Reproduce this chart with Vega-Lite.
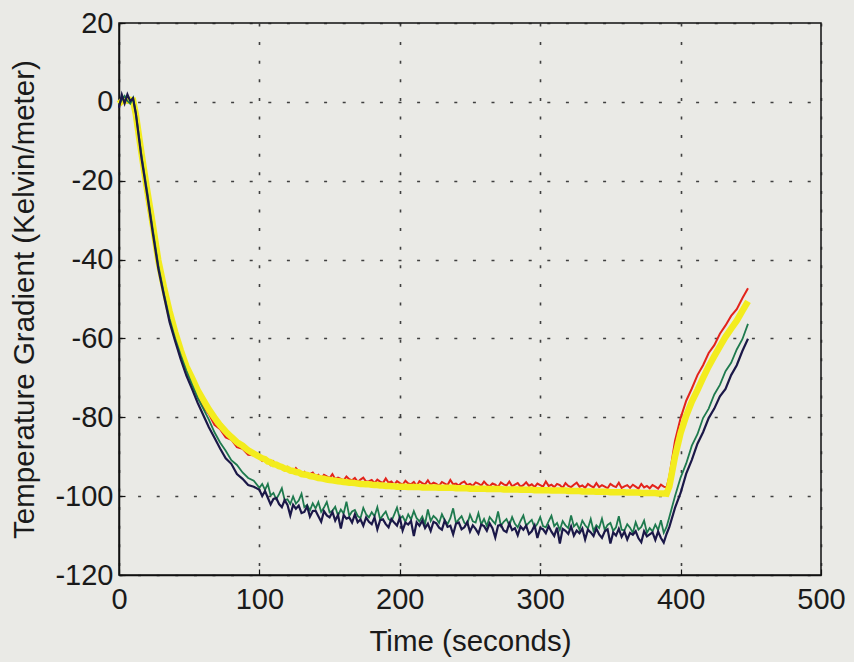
{
  "$schema": "https://vega.github.io/schema/vega-lite/v6.json",
  "width": 702,
  "height": 552,
  "autosize": {"type": "none"},
  "padding": {"left": 119, "top": 23, "right": 33, "bottom": 87},
  "background": "#eaeae6",
  "config": {
    "view": {"stroke": "#111111", "strokeWidth": 1.5, "fill": "#eaeae6"},
    "axis": {
      "labelFont": "Liberation Sans",
      "titleFont": "Liberation Sans",
      "labelFontSize": 29,
      "titleFontSize": 29.5,
      "labelColor": "#1a1a1a",
      "titleColor": "#1a1a1a",
      "titleFontWeight": "normal",
      "domainColor": "#111111",
      "domainWidth": 1.5,
      "tickColor": "#111111",
      "tickWidth": 1.2,
      "grid": true,
      "gridColor": "#222222",
      "gridWidth": 1.6,
      "gridDash": [3, 15.6],
      "gridOpacity": 0.85,
      "labelExpr": "'' + datum.value"
    }
  },
  "data": {"values": [
    {"t":0,"red":0.2,"yellow":-0.5,"green":-0.8,"navy":-1.5},
    {"t":2,"red":0.8,"yellow":0.2,"green":0.6,"navy":1.8},
    {"t":4,"red":1.0,"yellow":0.6,"green":1.5,"navy":-0.4},
    {"t":6,"red":-0.2,"yellow":0.3,"green":0.2,"navy":1.9},
    {"t":8,"red":0.3,"yellow":0.5,"green":-0.5,"navy":0.2},
    {"t":10,"red":0.4,"yellow":0.4,"green":1.0,"navy":0.9},
    {"t":12,"red":-4.5,"yellow":-3.2,"green":-2.8,"navy":-3.0},
    {"t":16,"red":-15.5,"yellow":-13,"green":-13.5,"navy":-14.2},
    {"t":20,"red":-25,"yellow":-22.3,"green":-22.6,"navy":-23.4},
    {"t":24,"red":-33.4,"yellow":-31,"green":-32.2,"navy":-33.1},
    {"t":28,"red":-41,"yellow":-40.2,"green":-41.5,"navy":-42.3},
    {"t":32,"red":-48.3,"yellow":-47,"green":-48.6,"navy":-49.2},
    {"t":36,"red":-54.2,"yellow":-53.1,"green":-55,"navy":-55.8},
    {"t":40,"red":-59.8,"yellow":-58.4,"green":-60,"navy":-60.7},
    {"t":44,"red":-64.2,"yellow":-63,"green":-64.3,"navy":-65.3},
    {"t":48,"red":-68.3,"yellow":-67.1,"green":-68.2,"navy":-69.4},
    {"t":52,"red":-71.2,"yellow":-70,"green":-71.7,"navy":-72.8},
    {"t":56,"red":-74.4,"yellow":-73.1,"green":-75.1,"navy":-76.3},
    {"t":60,"red":-77.3,"yellow":-75.6,"green":-77.8,"navy":-79.4},
    {"t":64,"red":-79.2,"yellow":-78,"green":-80.6,"navy":-82.5},
    {"t":68,"red":-81.9,"yellow":-80.1,"green":-83.8,"navy":-85.2},
    {"t":72,"red":-83,"yellow":-82,"green":-86.4,"navy":-87.9},
    {"t":76,"red":-85.1,"yellow":-83.6,"green":-88.5,"navy":-90.4},
    {"t":80,"red":-85.7,"yellow":-85,"green":-90.9,"navy":-91.8},
    {"t":84,"red":-87.6,"yellow":-86.3,"green":-92.1,"navy":-94.4},
    {"t":88,"red":-88,"yellow":-87.2,"green":-94,"navy":-95.6},
    {"t":92,"red":-89.5,"yellow":-88.4,"green":-95.4,"navy":-97.2},
    {"t":96,"red":-89.6,"yellow":-89.2,"green":-96.1,"navy":-97.6},
    {"t":100,"red":-90.4,"yellow":-90.0,"green":-97.9,"navy":-98.4},
    {"t":102,"red":-91.1,"yellow":-90.4,"green":-96.9,"navy":-100.0},
    {"t":104,"red":-90.7,"yellow":-90.6,"green":-98.4,"navy":-98.7},
    {"t":106,"red":-91.4,"yellow":-91.2,"green":-96.9,"navy":-100.4},
    {"t":108,"red":-92.1,"yellow":-91.4,"green":-99.8,"navy":-102.1},
    {"t":110,"red":-91.2,"yellow":-91.9,"green":-99.2,"navy":-100.7},
    {"t":112,"red":-92.1,"yellow":-92.0,"green":-100.8,"navy":-100.5},
    {"t":114,"red":-92.6,"yellow":-92.4,"green":-99.5,"navy":-102.0},
    {"t":116,"red":-92.3,"yellow":-92.6,"green":-98.0,"navy":-102.8},
    {"t":118,"red":-93.4,"yellow":-93.0,"green":-101.0,"navy":-101.0},
    {"t":120,"red":-92.6,"yellow":-93.1,"green":-100.8,"navy":-102.2},
    {"t":122,"red":-93.4,"yellow":-93.5,"green":-102.0,"navy":-104.9},
    {"t":124,"red":-93.8,"yellow":-93.6,"green":-100.1,"navy":-102.2},
    {"t":126,"red":-92.9,"yellow":-93.9,"green":-101.9,"navy":-103.2},
    {"t":128,"red":-93.7,"yellow":-94.0,"green":-101.1,"navy":-102.4},
    {"t":130,"red":-94.2,"yellow":-94.4,"green":-99.4,"navy":-104.3},
    {"t":132,"red":-93.8,"yellow":-94.5,"green":-102.8,"navy":-104.0},
    {"t":134,"red":-94.8,"yellow":-94.6,"green":-102.2,"navy":-102.6},
    {"t":136,"red":-94.4,"yellow":-94.9,"green":-103.6,"navy":-105.2},
    {"t":138,"red":-94.0,"yellow":-95.0,"green":-101.8,"navy":-103.8},
    {"t":140,"red":-95.0,"yellow":-95.2,"green":-103.1,"navy":-103.7},
    {"t":142,"red":-94.6,"yellow":-95.4,"green":-101.5,"navy":-105.1},
    {"t":144,"red":-95.5,"yellow":-95.5,"green":-104.0,"navy":-106.5},
    {"t":146,"red":-94.6,"yellow":-95.6,"green":-102.9,"navy":-103.8},
    {"t":148,"red":-95.0,"yellow":-95.8,"green":-101.5,"navy":-104.9},
    {"t":150,"red":-95.4,"yellow":-95.9,"green":-104.1,"navy":-105.4},
    {"t":152,"red":-94.4,"yellow":-96.0,"green":-103.7,"navy":-104.0},
    {"t":154,"red":-95.7,"yellow":-96.1,"green":-102.7,"navy":-106.2},
    {"t":156,"red":-95.3,"yellow":-96.2,"green":-104.9,"navy":-104.8},
    {"t":158,"red":-95.6,"yellow":-96.3,"green":-103.4,"navy":-108.2},
    {"t":160,"red":-96.0,"yellow":-96.4,"green":-104.4,"navy":-104.8},
    {"t":162,"red":-95.0,"yellow":-96.5,"green":-101.4,"navy":-105.7},
    {"t":164,"red":-95.7,"yellow":-96.6,"green":-105.0,"navy":-105.4},
    {"t":166,"red":-96.0,"yellow":-96.6,"green":-103.9,"navy":-106.7},
    {"t":168,"red":-95.4,"yellow":-96.7,"green":-103.5,"navy":-104.6},
    {"t":170,"red":-96.4,"yellow":-96.8,"green":-105.0,"navy":-106.6},
    {"t":172,"red":-95.8,"yellow":-96.9,"green":-105.6,"navy":-105.9},
    {"t":174,"red":-95.3,"yellow":-96.9,"green":-103.0,"navy":-107.5},
    {"t":176,"red":-96.3,"yellow":-97.0,"green":-104.6,"navy":-105.4},
    {"t":178,"red":-96.2,"yellow":-97.0,"green":-105.4,"navy":-106.5},
    {"t":180,"red":-95.9,"yellow":-97.1,"green":-104.1,"navy":-107.1},
    {"t":182,"red":-96.7,"yellow":-97.2,"green":-105.1,"navy":-105.4},
    {"t":184,"red":-95.8,"yellow":-97.2,"green":-102.8,"navy":-108.4},
    {"t":186,"red":-96.3,"yellow":-97.3,"green":-105.9,"navy":-106.1},
    {"t":188,"red":-96.7,"yellow":-97.3,"green":-104.8,"navy":-105.9},
    {"t":190,"red":-95.5,"yellow":-97.4,"green":-103.9,"navy":-107.1},
    {"t":192,"red":-96.6,"yellow":-97.4,"green":-105.8,"navy":-107.9},
    {"t":194,"red":-96.3,"yellow":-97.5,"green":-106.4,"navy":-105.8},
    {"t":196,"red":-97.1,"yellow":-97.5,"green":-104.7,"navy":-106.7},
    {"t":198,"red":-96.2,"yellow":-97.6,"green":-102.9,"navy":-107.5},
    {"t":200,"red":-96.7,"yellow":-97.6,"green":-105.7,"navy":-105.5},
    {"t":202,"red":-97.1,"yellow":-97.6,"green":-105.1,"navy":-108.7},
    {"t":204,"red":-96.1,"yellow":-97.6,"green":-106.5,"navy":-106.7},
    {"t":206,"red":-96.8,"yellow":-97.7,"green":-104.6,"navy":-107.2},
    {"t":208,"red":-97.0,"yellow":-97.7,"green":-105.9,"navy":-106.3},
    {"t":210,"red":-96.4,"yellow":-97.7,"green":-103.8,"navy":-110.1},
    {"t":212,"red":-97.4,"yellow":-97.7,"green":-105.6,"navy":-106.6},
    {"t":214,"red":-96.2,"yellow":-97.7,"green":-106.4,"navy":-107.5},
    {"t":216,"red":-96.7,"yellow":-97.8,"green":-105.2,"navy":-106.2},
    {"t":218,"red":-97.0,"yellow":-97.8,"green":-107.0,"navy":-108.1},
    {"t":220,"red":-96.0,"yellow":-97.8,"green":-103.4,"navy":-107.0},
    {"t":222,"red":-97.1,"yellow":-97.8,"green":-106.3,"navy":-108.8},
    {"t":224,"red":-96.6,"yellow":-97.8,"green":-105.0,"navy":-106.5},
    {"t":226,"red":-96.9,"yellow":-97.8,"green":-105.7,"navy":-106.9},
    {"t":228,"red":-97.4,"yellow":-97.9,"green":-106.8,"navy":-108.0},
    {"t":230,"red":-96.4,"yellow":-97.9,"green":-104.6,"navy":-108.5},
    {"t":232,"red":-96.8,"yellow":-97.9,"green":-106.1,"navy":-106.2},
    {"t":234,"red":-97.2,"yellow":-97.9,"green":-107.1,"navy":-107.8},
    {"t":236,"red":-95.9,"yellow":-97.9,"green":-105.6,"navy":-107.5},
    {"t":238,"red":-97.0,"yellow":-97.9,"green":-103.1,"navy":-109.7},
    {"t":240,"red":-96.8,"yellow":-98.0,"green":-106.8,"navy":-107.0},
    {"t":242,"red":-97.3,"yellow":-98.0,"green":-105.9,"navy":-106.7},
    {"t":244,"red":-96.6,"yellow":-98.0,"green":-105.1,"navy":-108.4},
    {"t":246,"red":-96.3,"yellow":-98.0,"green":-106.8,"navy":-107.9},
    {"t":248,"red":-97.2,"yellow":-98.0,"green":-107.2,"navy":-106.6},
    {"t":250,"red":-96.9,"yellow":-98.1,"green":-104.7,"navy":-109.0},
    {"t":252,"red":-97.4,"yellow":-98.1,"green":-106.4,"navy":-107.4},
    {"t":254,"red":-96.5,"yellow":-98.1,"green":-106.7,"navy":-108.3},
    {"t":256,"red":-96.8,"yellow":-98.1,"green":-104.3,"navy":-109.5},
    {"t":258,"red":-97.3,"yellow":-98.1,"green":-107.2,"navy":-107.2},
    {"t":260,"red":-96.3,"yellow":-98.1,"green":-105.8,"navy":-107.6},
    {"t":262,"red":-97.1,"yellow":-98.2,"green":-107.6,"navy":-108.8},
    {"t":264,"red":-97.5,"yellow":-98.2,"green":-105.3,"navy":-106.9},
    {"t":266,"red":-96.8,"yellow":-98.2,"green":-106.2,"navy":-108.1},
    {"t":268,"red":-97.1,"yellow":-98.2,"green":-107.0,"navy":-110.5},
    {"t":270,"red":-97.7,"yellow":-98.2,"green":-103.9,"navy":-107.5},
    {"t":272,"red":-96.5,"yellow":-98.2,"green":-107.5,"navy":-107.3},
    {"t":274,"red":-97.0,"yellow":-98.3,"green":-106.5,"navy":-108.7},
    {"t":276,"red":-97.3,"yellow":-98.3,"green":-105.8,"navy":-109.1},
    {"t":278,"red":-96.3,"yellow":-98.3,"green":-107.4,"navy":-106.9},
    {"t":280,"red":-97.5,"yellow":-98.3,"green":-105.3,"navy":-108.6},
    {"t":282,"red":-97.1,"yellow":-98.3,"green":-107.0,"navy":-108.1},
    {"t":284,"red":-96.7,"yellow":-98.3,"green":-107.9,"navy":-109.9},
    {"t":286,"red":-97.6,"yellow":-98.4,"green":-106.3,"navy":-107.7},
    {"t":288,"red":-97.2,"yellow":-98.4,"green":-104.9,"navy":-108.5},
    {"t":290,"red":-96.5,"yellow":-98.4,"green":-107.5,"navy":-107.5},
    {"t":292,"red":-97.4,"yellow":-98.4,"green":-106.7,"navy":-109.6},
    {"t":294,"red":-97.0,"yellow":-98.4,"green":-106.0,"navy":-108.9},
    {"t":296,"red":-97.7,"yellow":-98.5,"green":-108.0,"navy":-107.4},
    {"t":298,"red":-96.8,"yellow":-98.5,"green":-107.0,"navy":-110.6},
    {"t":300,"red":-97.2,"yellow":-98.5,"green":-105.3,"navy":-108.1},
    {"t":302,"red":-97.6,"yellow":-98.5,"green":-107.6,"navy":-108.4},
    {"t":304,"red":-96.3,"yellow":-98.5,"green":-107.9,"navy":-109.4},
    {"t":306,"red":-97.4,"yellow":-98.5,"green":-106.4,"navy":-107.6},
    {"t":308,"red":-97.1,"yellow":-98.6,"green":-105.0,"navy":-109.0},
    {"t":310,"red":-97.7,"yellow":-98.6,"green":-107.6,"navy":-110.1},
    {"t":312,"red":-96.9,"yellow":-98.6,"green":-106.8,"navy":-108.0},
    {"t":314,"red":-97.2,"yellow":-98.6,"green":-108.6,"navy":-112.0},
    {"t":316,"red":-97.9,"yellow":-98.6,"green":-106.3,"navy":-108.3},
    {"t":318,"red":-96.7,"yellow":-98.6,"green":-107.4,"navy":-108.8},
    {"t":320,"red":-97.4,"yellow":-98.7,"green":-108.1,"navy":-109.6},
    {"t":322,"red":-97.7,"yellow":-98.7,"green":-104.9,"navy":-107.7},
    {"t":324,"red":-97.1,"yellow":-98.7,"green":-107.7,"navy":-110.0},
    {"t":326,"red":-96.6,"yellow":-98.7,"green":-106.9,"navy":-108.7},
    {"t":328,"red":-97.6,"yellow":-98.7,"green":-108.5,"navy":-109.4},
    {"t":330,"red":-97.3,"yellow":-98.8,"green":-106.2,"navy":-108.2},
    {"t":332,"red":-97.9,"yellow":-98.8,"green":-107.4,"navy":-111.0},
    {"t":334,"red":-96.9,"yellow":-98.8,"green":-108.2,"navy":-108.5},
    {"t":336,"red":-97.4,"yellow":-98.8,"green":-105.8,"navy":-109.2},
    {"t":338,"red":-97.8,"yellow":-98.8,"green":-108.8,"navy":-110.1},
    {"t":340,"red":-96.7,"yellow":-98.9,"green":-107.4,"navy":-108.2},
    {"t":342,"red":-97.7,"yellow":-98.9,"green":-108.1,"navy":-109.7},
    {"t":344,"red":-97.2,"yellow":-98.9,"green":-105.7,"navy":-110.6},
    {"t":346,"red":-97.6,"yellow":-98.9,"green":-108.6,"navy":-108.9},
    {"t":348,"red":-98.0,"yellow":-98.9,"green":-107.3,"navy":-108.4},
    {"t":350,"red":-96.9,"yellow":-99.0,"green":-106.8,"navy":-112.0},
    {"t":352,"red":-97.4,"yellow":-99.0,"green":-108.8,"navy":-109.2},
    {"t":354,"red":-97.7,"yellow":-99.0,"green":-107.9,"navy":-110.0},
    {"t":356,"red":-96.6,"yellow":-99.0,"green":-105.1,"navy":-108.3},
    {"t":358,"red":-97.9,"yellow":-99.0,"green":-108.5,"navy":-110.3},
    {"t":360,"red":-97.5,"yellow":-99.0,"green":-108.7,"navy":-109.0},
    {"t":362,"red":-97.2,"yellow":-99.1,"green":-107.1,"navy":-111.0},
    {"t":364,"red":-97.9,"yellow":-99.1,"green":-108.0,"navy":-109.3},
    {"t":366,"red":-97.1,"yellow":-99.1,"green":-109.3,"navy":-109.8},
    {"t":368,"red":-97.6,"yellow":-99.1,"green":-106.6,"navy":-108.9},
    {"t":370,"red":-98.1,"yellow":-99.1,"green":-108.5,"navy":-110.7},
    {"t":372,"red":-96.9,"yellow":-99.2,"green":-107.8,"navy":-111.7},
    {"t":374,"red":-97.8,"yellow":-99.2,"green":-106.2,"navy":-108.9},
    {"t":376,"red":-97.4,"yellow":-99.2,"green":-109.3,"navy":-110.2},
    {"t":378,"red":-98.0,"yellow":-99.2,"green":-108.1,"navy":-109.7},
    {"t":380,"red":-97.2,"yellow":-99.2,"green":-108.9,"navy":-109.2},
    {"t":382,"red":-97.6,"yellow":-99.2,"green":-107.2,"navy":-111.1},
    {"t":384,"red":-98.1,"yellow":-99.3,"green":-108.6,"navy":-109.0},
    {"t":386,"red":-97.1,"yellow":-99.3,"green":-106.1,"navy":-110.6},
    {"t":388,"red":-97.6,"yellow":-99.3,"green":-109.3,"navy":-111.8},
    {"t":390,"red":-97.8,"yellow":-99.4,"green":-107.8,"navy":-109.6},
    {"t":392,"red":-95,"yellow":-97.5,"green":-105.3,"navy":-107.8},
    {"t":396,"red":-86,"yellow":-90,"green":-100,"navy":-103},
    {"t":400,"red":-80.2,"yellow":-84,"green":-95.3,"navy":-99.2},
    {"t":404,"red":-75.8,"yellow":-79.6,"green":-91.7,"navy":-94.3},
    {"t":408,"red":-72.7,"yellow":-76,"green":-87.2,"navy":-90.8},
    {"t":412,"red":-69.3,"yellow":-73.1,"green":-84.3,"navy":-86.7},
    {"t":416,"red":-66.8,"yellow":-70,"green":-80.2,"navy":-83.8},
    {"t":420,"red":-63.7,"yellow":-67.1,"green":-77.8,"navy":-80.2},
    {"t":424,"red":-61.7,"yellow":-64.5,"green":-74.2,"navy":-77.8},
    {"t":428,"red":-58.8,"yellow":-62,"green":-71.8,"navy":-74.7},
    {"t":432,"red":-56.7,"yellow":-59.6,"green":-68.3,"navy":-72.8},
    {"t":436,"red":-54.3,"yellow":-57.5,"green":-66.2,"navy":-69.3},
    {"t":440,"red":-52.6,"yellow":-55.5,"green":-62.8,"navy":-66.8},
    {"t":444,"red":-49.8,"yellow":-53,"green":-60.2,"navy":-63.2},
    {"t":448,"red":-47.3,"yellow":-50.6,"green":-56.3,"navy":-60.1}
  ]},
  "encoding": {
    "x": {
      "field": "t", "type": "quantitative",
      "scale": {"domain": [0, 500], "nice": false, "zero": false},
      "axis": {"title": "Time (seconds)", "values": [0, 100, 200, 300, 400, 500], "tickSize": -6, "labelPadding": 16, "titlePadding": 13, "labelFlush": false}
    }
  },
  "layer": [
    {"mark": {"type": "line", "color": "#e3231b", "strokeWidth": 2}, "encoding": {"y": {"field": "red", "type": "quantitative", "scale": {"domain": [-120, 20], "nice": false, "zero": false}, "axis": {"title": "Temperature Gradient (Kelvin/meter)", "values": [-120, -100, -80, -60, -40, -20, 0, 20], "tickSize": -6, "labelPadding": 12, "titlePadding": 15, "labelFlush": false}}}},
    {"mark": {"type": "line", "color": "#f3ec1e", "strokeWidth": 6.5}, "encoding": {"y": {"field": "yellow", "type": "quantitative"}}},
    {"mark": {"type": "line", "color": "#1e7a4e", "strokeWidth": 1.8}, "encoding": {"y": {"field": "green", "type": "quantitative"}}},
    {"mark": {"type": "line", "color": "#1b1848", "strokeWidth": 2.2}, "encoding": {"y": {"field": "navy", "type": "quantitative"}}}
  ]
}
